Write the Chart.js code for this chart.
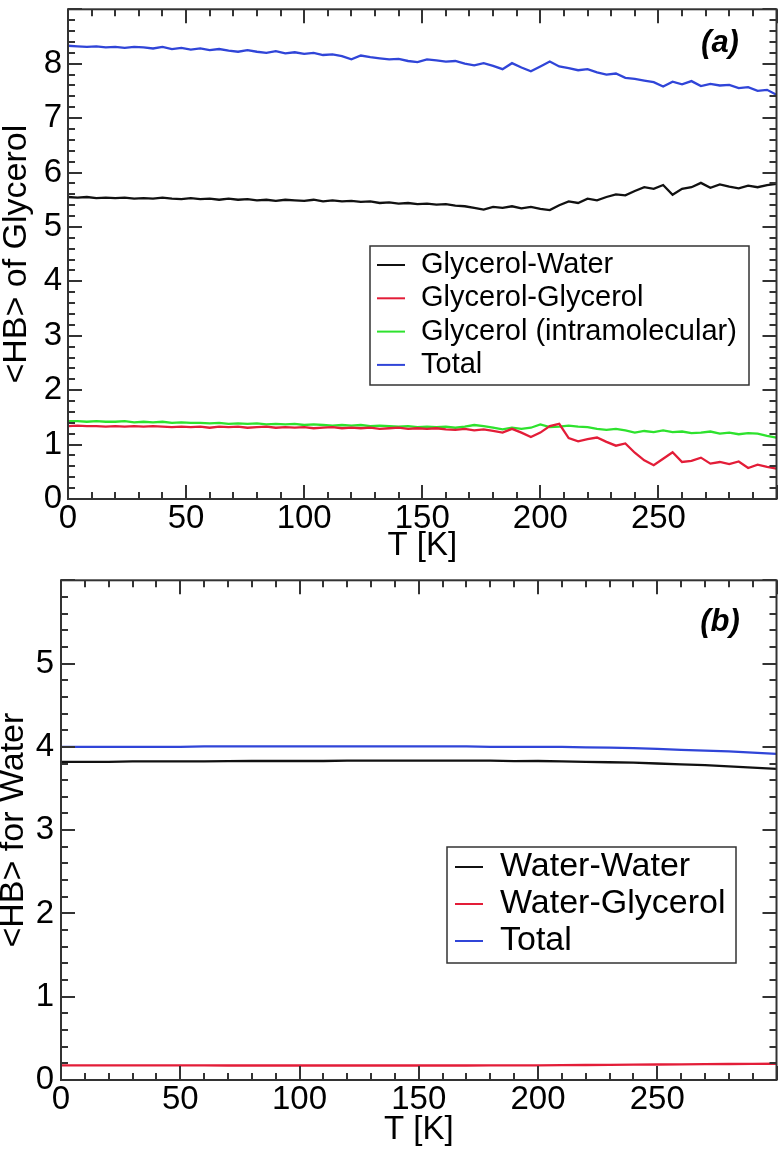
<!DOCTYPE html>
<html>
<head>
<meta charset="utf-8">
<script src="https://cdn.jsdelivr.net/npm/chart.js@4.4.1/dist/chart.umd.min.js"></script>
<style>
  html, body { margin: 0; padding: 0; background: #fff; }
  #wrap { position: relative; width: 780px; height: 1155px; }
  canvas { position: absolute; left: 0; }
  #chart-a { top: 0; }
  #chart-b { top: 570px; }
</style>
</head>
<body>
<div id="wrap">
  <canvas id="chart-a" width="780" height="570"></canvas>
  <canvas id="chart-b" width="780" height="585"></canvas>
</div>
<script>
const FONT = '"Liberation Sans", Arial, Helvetica, sans-serif';

// panel (a): HB per glycerol, sampled every 4 K
const tempA = [0, 4, 8, 12, 16, 20, 24, 28, 32, 36, 40, 44, 48, 52, 56, 60, 64, 68, 72, 76,
  80, 84, 88, 92, 96, 100, 104, 108, 112, 116, 120, 124, 128, 132, 136, 140, 144, 148, 152, 156,
  160, 164, 168, 172, 176, 180, 184, 188, 192, 196, 200, 204, 208, 212, 216, 220, 224, 228, 232, 236,
  240, 244, 248, 252, 256, 260, 264, 268, 272, 276, 280, 284, 288, 292, 296, 300];

const glyWater = [5.55, 5.54, 5.55, 5.53, 5.54, 5.53, 5.54, 5.52, 5.53, 5.52,
  5.54, 5.52, 5.51, 5.53, 5.51, 5.52, 5.50, 5.52, 5.50, 5.51,
  5.49, 5.50, 5.48, 5.50, 5.49, 5.48, 5.50, 5.47, 5.49, 5.47,
  5.48, 5.46, 5.47, 5.44, 5.45, 5.43, 5.44, 5.42, 5.43, 5.41,
  5.42, 5.39, 5.38, 5.35, 5.32, 5.37, 5.35, 5.38, 5.34, 5.37,
  5.33, 5.31, 5.40, 5.47, 5.44, 5.52, 5.49, 5.55, 5.60, 5.58,
  5.66, 5.73, 5.70, 5.77, 5.59, 5.70, 5.73, 5.81, 5.72, 5.78,
  5.74, 5.71, 5.76, 5.73, 5.77, 5.79];

const glyGly = [1.34, 1.35, 1.34, 1.34, 1.33, 1.34, 1.33, 1.34, 1.33, 1.34,
  1.33, 1.32, 1.33, 1.32, 1.33, 1.31, 1.33, 1.32, 1.33, 1.31,
  1.32, 1.33, 1.31, 1.32, 1.31, 1.32, 1.30, 1.31, 1.32, 1.30,
  1.31, 1.30, 1.31, 1.29, 1.30, 1.31, 1.29, 1.30, 1.29, 1.30,
  1.28, 1.27, 1.29, 1.26, 1.28, 1.25, 1.22, 1.29, 1.22, 1.14,
  1.22, 1.34, 1.38, 1.12, 1.06, 1.10, 1.13, 1.05, 0.98, 1.02,
  0.85, 0.71, 0.62, 0.74, 0.86, 0.68, 0.70, 0.76, 0.65, 0.68,
  0.64, 0.69, 0.57, 0.63, 0.59, 0.56];

const glyIntra = [1.43, 1.43, 1.42, 1.43, 1.42, 1.42, 1.43, 1.41, 1.42, 1.41,
  1.42, 1.40, 1.41, 1.40, 1.40, 1.39, 1.40, 1.38, 1.39, 1.38,
  1.39, 1.37, 1.38, 1.37, 1.38, 1.36, 1.37, 1.36, 1.35, 1.36,
  1.35, 1.36, 1.34, 1.35, 1.34, 1.33, 1.34, 1.32, 1.33, 1.32,
  1.33, 1.31, 1.33, 1.36, 1.34, 1.31, 1.28, 1.31, 1.29, 1.31,
  1.37, 1.32, 1.33, 1.35, 1.33, 1.32, 1.29, 1.27, 1.29, 1.26,
  1.22, 1.25, 1.23, 1.26, 1.23, 1.24, 1.21, 1.22, 1.24, 1.20,
  1.22, 1.19, 1.21, 1.20, 1.16, 1.13];

const glyTotal = [8.33, 8.32, 8.31, 8.32, 8.30, 8.31, 8.29, 8.31, 8.30, 8.28,
  8.31, 8.27, 8.29, 8.26, 8.28, 8.25, 8.27, 8.24, 8.22, 8.25,
  8.22, 8.20, 8.23, 8.19, 8.21, 8.18, 8.20, 8.16, 8.17, 8.14,
  8.08, 8.15, 8.12, 8.10, 8.08, 8.09, 8.05, 8.03, 8.08, 8.06,
  8.04, 8.05, 8.00, 7.97, 8.01, 7.96, 7.90, 8.01, 7.93, 7.86,
  7.95, 8.04, 7.95, 7.92, 7.88, 7.90, 7.84, 7.80, 7.82, 7.74,
  7.72, 7.69, 7.66, 7.58, 7.67, 7.62, 7.68, 7.59, 7.63, 7.60,
  7.61, 7.55, 7.57, 7.50, 7.52, 7.43];

// panel (b): HB per water, every 10 K
const tempB = [0, 10, 20, 30, 40, 50, 60, 70, 80, 90, 100, 110, 120, 130, 140, 150,
  160, 170, 180, 190, 200, 210, 220, 230, 240, 250, 260, 270, 280, 290, 300];

const watWater = [3.82, 3.82, 3.82, 3.825, 3.825, 3.825, 3.825, 3.83, 3.83, 3.83, 3.83,
  3.83, 3.835, 3.835, 3.835, 3.835, 3.835, 3.835, 3.835, 3.83, 3.83,
  3.825, 3.82, 3.815, 3.81, 3.80, 3.79, 3.78, 3.765, 3.75, 3.735];

const watGly = [0.175, 0.175, 0.175, 0.175, 0.175, 0.175, 0.175, 0.174, 0.174, 0.174, 0.174,
  0.174, 0.174, 0.174, 0.174, 0.174, 0.174, 0.174, 0.175, 0.175, 0.176,
  0.178, 0.18, 0.182, 0.184, 0.186, 0.188, 0.19, 0.192, 0.193, 0.195];

const watTotal = [4.00, 4.00, 4.00, 4.00, 4.00, 4.00, 4.005, 4.005, 4.005, 4.005, 4.005,
  4.005, 4.005, 4.005, 4.005, 4.005, 4.005, 4.005, 4.00, 4.00, 4.00,
  4.00, 3.995, 3.99, 3.985, 3.975, 3.965, 3.955, 3.945, 3.93, 3.915];

const COLORS = { black: '#111111', red: '#e31d38', green: '#2ee22e', blue: '#3045d8' };

// box round the plot, inward ticks on all four sides, panel tag
const framePlugin = {
  id: 'hbFrame',
  afterDatasetsDraw(chart, args, opts) {
    const { ctx, chartArea: a, scales: { x, y } } = chart;
    ctx.save();
    ctx.strokeStyle = '#333';
    ctx.lineWidth = 2;
    ctx.strokeRect(a.left, a.top, a.right - a.left, a.bottom - a.top);
    ctx.beginPath();
    for (let v = x.min; v <= x.max + 1e-6; v += 10) {
      const px = Math.round(x.getPixelForValue(v));
      const len = v % 50 === 0 ? 14 : 7;
      ctx.moveTo(px, a.bottom); ctx.lineTo(px, a.bottom - len);
      ctx.moveTo(px, a.top); ctx.lineTo(px, a.top + len);
    }
    for (let k = 0; k <= y.max * 5; k++) {
      const py = Math.round(y.getPixelForValue(k / 5));
      const len = k % 5 === 0 ? 14 : 7;
      ctx.moveTo(a.left, py); ctx.lineTo(a.left + len, py);
      ctx.moveTo(a.right, py); ctx.lineTo(a.right - len, py);
    }
    ctx.stroke();
    ctx.fillStyle = '#000';
    ctx.font = 'italic bold 31px ' + FONT;
    ctx.textAlign = 'center';
    ctx.textBaseline = 'middle';
    ctx.fillText(opts.tag, opts.tagX, opts.tagY);
    ctx.restore();
  }
};

// legend box placed inside the plot like the original
const legendPlugin = {
  id: 'hbLegend',
  afterDatasetsDraw(chart, args, o) {
    const ctx = chart.ctx;
    ctx.save();
    ctx.fillStyle = '#fff';
    ctx.fillRect(o.left, o.top, o.right - o.left, o.bottom - o.top);
    ctx.strokeStyle = '#333';
    ctx.lineWidth = 1.5;
    ctx.strokeRect(o.left, o.top, o.right - o.left, o.bottom - o.top);
    ctx.font = o.fontSize + 'px ' + FONT;
    ctx.textAlign = 'left';
    ctx.textBaseline = 'middle';
    chart.data.datasets.forEach((ds, i) => {
      const yy = o.firstRow + i * o.rowStep;
      ctx.strokeStyle = ds.borderColor;
      ctx.lineWidth = 2;
      ctx.beginPath();
      ctx.moveTo(o.lineX0, yy);
      ctx.lineTo(o.lineX1, yy);
      ctx.stroke();
      ctx.fillStyle = '#000';
      ctx.fillText(ds.label, o.textX, yy);
    });
    ctx.restore();
  }
};

function makePanel(canvas, cfg) {
  const tickFont = { family: FONT, size: 33, lineHeight: 1 };
  return new Chart(canvas, {
    type: 'line',
    data: {
      datasets: cfg.series.map((s) => ({
        label: s.label,
        data: cfg.temps.map((t, i) => ({ x: t, y: s.values[i] })),
        borderColor: s.color,
        borderWidth: 2.3,
        pointRadius: 0,
        tension: 0,
        fill: false
      }))
    },
    options: {
      responsive: false,
      animation: false,
      events: [],
      layout: { padding: { left: 0, top: cfg.area.top, right: 780 - cfg.area.right, bottom: 0 } },
      plugins: {
        legend: { display: false },
        tooltip: { enabled: false },
        hbFrame: cfg.frame,
        hbLegend: cfg.legend
      },
      scales: {
        x: {
          type: 'linear',
          min: 0,
          max: 300,
          afterFit: (s) => { s.height = cfg.height - cfg.area.bottom; },
          grid: { display: false, drawTicks: false },
          border: { display: false },
          ticks: {
            stepSize: 50, autoSkip: false, maxRotation: 0, minRotation: 0,
            padding: 3.5, color: '#000', font: tickFont,
            callback: (v) => (v === 300 ? '' : v)
          },
          title: {
            display: true, text: 'T [K]', color: '#000', font: tickFont,
            padding: { top: 0, bottom: cfg.xTitlePad }
          }
        },
        y: {
          min: 0,
          max: cfg.yMax,
          afterFit: (s) => { s.width = cfg.area.left; },
          grid: { display: false, drawTicks: false },
          border: { display: false },
          ticks: {
            stepSize: 1, autoSkip: false, padding: cfg.yTickPad, color: '#000',
            font: { family: FONT, size: 33, lineHeight: 0.2 },
            callback: (v) => (v === cfg.yMax ? '' : v)
          },
          title: {
            display: true, text: cfg.yTitle, color: '#000',
            font: { family: FONT, size: 34, lineHeight: 1 },
            padding: { top: cfg.yTitlePad, bottom: 0 }
          }
        }
      }
    },
    plugins: [framePlugin, legendPlugin]
  });
}

makePanel(document.getElementById('chart-a'), {
  height: 570,
  area: { left: 68, top: 3, right: 777, bottom: 499 },
  temps: tempA,
  yMax: 9,
  yTitle: '<HB> of Glycerol',
  yTickPad: 6,
  yTitlePad: -0.5,
  xTitlePad: 7.5,
  series: [
    { label: 'Glycerol-Water', values: glyWater, color: COLORS.black },
    { label: 'Glycerol-Glycerol', values: glyGly, color: COLORS.red },
    { label: 'Glycerol (intramolecular)', values: glyIntra, color: COLORS.green },
    { label: 'Total', values: glyTotal, color: COLORS.blue }
  ],
  frame: { tag: '(a)', tagX: 720, tagY: 43 },
  legend: {
    left: 370, right: 749, top: 246, bottom: 385,
    firstRow: 265, rowStep: 33.3, lineX0: 377, lineX1: 405, textX: 421, fontSize: 29
  }
});

makePanel(document.getElementById('chart-b'), {
  height: 585,
  area: { left: 61, top: 9, right: 777, bottom: 510 },
  temps: tempB,
  yMax: 6,
  yTitle: '<HB> for Water',
  yTickPad: 7,
  yTitlePad: -3.5,
  xTitlePad: 8.5,
  series: [
    { label: 'Water-Water', values: watWater, color: COLORS.black },
    { label: 'Water-Glycerol', values: watGly, color: COLORS.red },
    { label: 'Total', values: watTotal, color: COLORS.blue }
  ],
  frame: { tag: '(b)', tagX: 720, tagY: 52 },
  legend: {
    left: 447, right: 736, top: 277, bottom: 393,
    firstRow: 297, rowStep: 37, lineX0: 455, lineX1: 483, textX: 500, fontSize: 34
  }
});
</script>
</body>
</html>
